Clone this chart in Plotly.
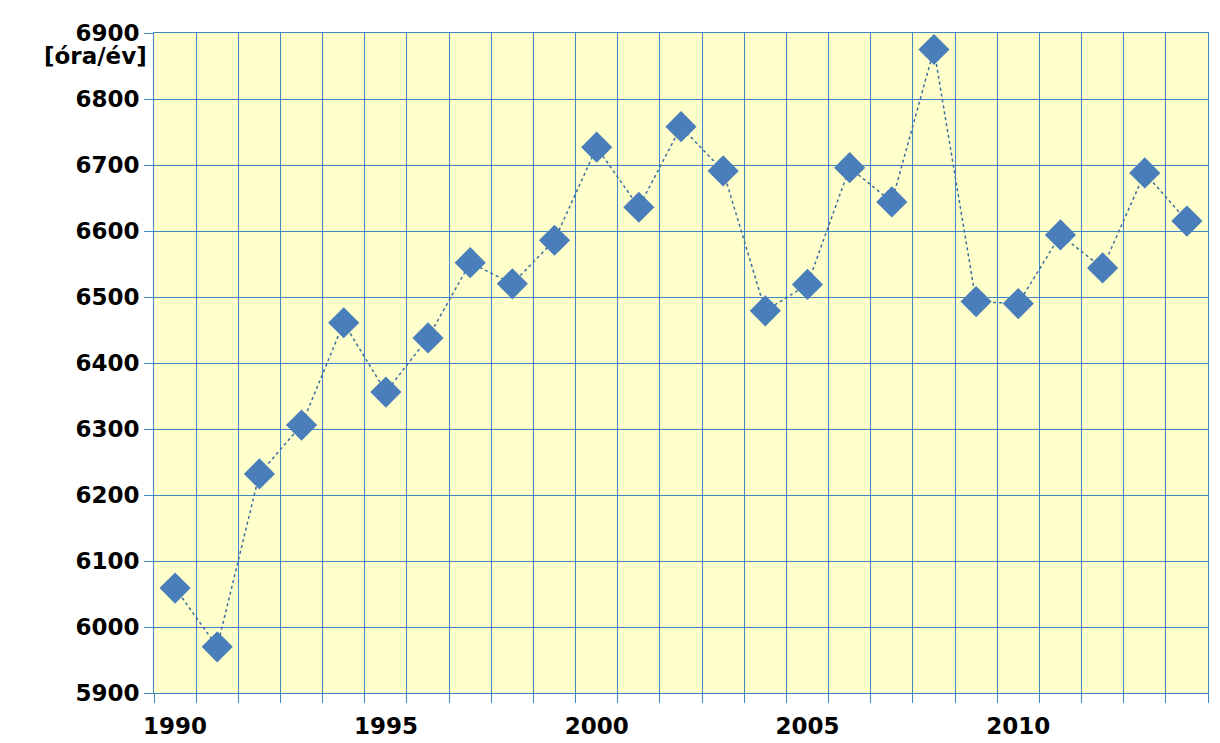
import plotly.graph_objects as go

years = list(range(1990, 2015))
hours = [6059, 5970, 6232, 6306, 6461, 6356, 6438, 6552, 6520, 6586,
         6727, 6636, 6758, 6691, 6479, 6519, 6696, 6644, 6875, 6493,
         6490, 6594, 6544, 6688, 6615]
x_labels = [1990, 1995, 2000, 2005, 2010]
y_ticks = list(range(5900, 7000, 100))

gridc = "#3F88C5"
tickfont = dict(family="DejaVu Sans", size=23, color="black", weight="bold")

fig = go.Figure(go.Scatter(
    x=years, y=hours, mode="lines+markers",
    line=dict(color="#3A6E9E", width=1.5, dash="dot"),
    marker=dict(symbol="diamond", size=24, color="#4A7EBB"),
    showlegend=False,
))

fig.update_layout(
    width=1220, height=743,
    margin=dict(l=146, r=20, t=14, b=53),
    paper_bgcolor="white", plot_bgcolor="#FFFFCC",
    xaxis=dict(range=[1989.5, 2014.5], tickvals=x_labels, showgrid=False,
               ticks="", tickfont=tickfont, ticklabelstandoff=12,
               showline=True, linecolor=gridc, mirror=True, zeroline=False,
               minor=dict(tick0=0.5, dtick=1, showgrid=True, gridcolor=gridc,
                          gridwidth=1, ticks="outside", ticklen=9, tickcolor=gridc)),
    yaxis=dict(range=[5900, 6900], tickvals=y_ticks, gridcolor=gridc, gridwidth=1,
               ticks="outside", ticklen=9, tickcolor=gridc, tickfont=tickfont,
               showline=True, linecolor=gridc, mirror=True, zeroline=False),
)

fig.add_annotation(text="[óra/év]", xref="paper", yref="paper", x=-0.005, y=0.965,
                   xanchor="right", yanchor="middle", showarrow=False, font=tickfont)

fig.write_html("out.html")
